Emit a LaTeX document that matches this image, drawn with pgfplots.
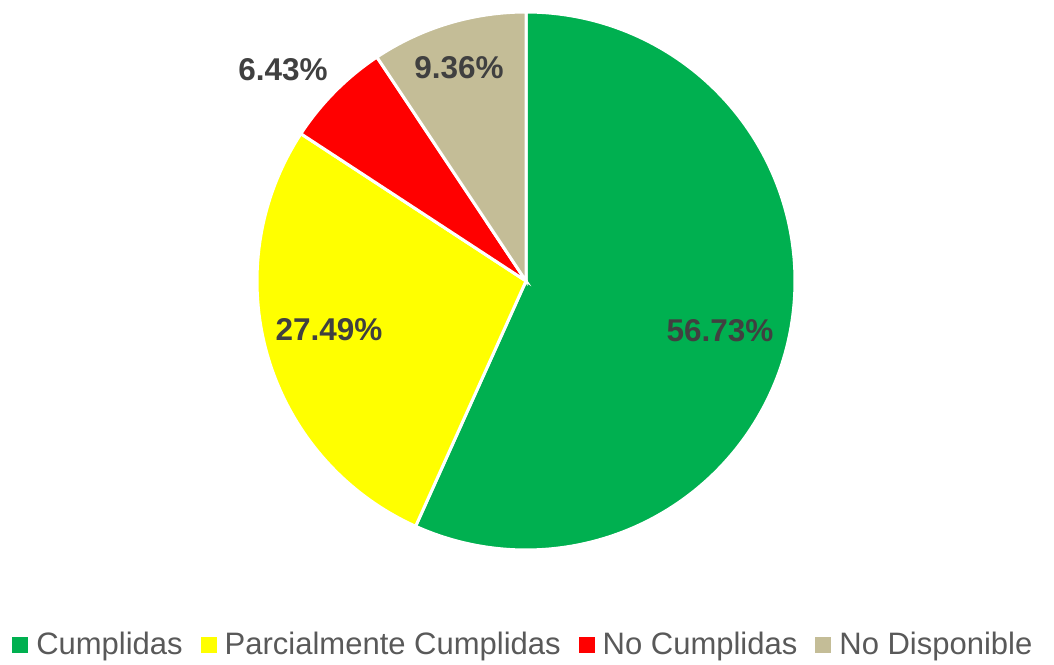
\documentclass[border=0pt]{standalone}
\usepackage{fontspec}
\setmainfont{Liberation Sans}
\usepackage{pgfplots}
\pgfplotsset{compat=1.18}
\definecolor{cGreen}{HTML}{00B050}
\definecolor{cYellow}{HTML}{FFFF00}
\definecolor{cRed}{HTML}{FF0000}
\definecolor{cTan}{HTML}{C4BD97}
\definecolor{cLabel}{HTML}{404040}
\definecolor{cLegend}{HTML}{595959}
\begin{document}
\begin{tikzpicture}
\useasboundingbox (0,0) rectangle (527pt,332pt);
% shares (percent)
\pgfmathsetmacro{\vA}{56.73}
\pgfmathsetmacro{\vB}{27.49}
\pgfmathsetmacro{\vC}{6.43}
\pgfmathsetmacro{\vD}{9.36}
\pgfmathsetmacro{\aA}{90}
\pgfmathsetmacro{\aB}{\aA-3.6*\vA}
\pgfmathsetmacro{\aC}{\aB-3.6*\vB}
\pgfmathsetmacro{\aD}{\aC-3.6*\vC}
\pgfmathsetmacro{\aE}{\aD-3.6*\vD}
\begin{axis}[
  at={(263pt,191.5pt)}, anchor=origin,
  x=134.5pt, y=134.5pt,
  xmin=-1.05, xmax=1.05, ymin=-1.05, ymax=1.05,
  hide axis, clip=false,
  legend columns=4,
  legend cell align=left,
  legend image code/.code={\path[#1, draw=none] (0pt,-4pt) rectangle (8pt,4pt);},
  legend style={at={(0.4935,-0.1444)}, anchor=center, draw=none, fill=none,
    inner sep=0pt, outer sep=0pt,
    font=\fontsize{15.5}{18}\selectfont, text=cLegend,
    nodes={inner sep=0pt},
    /tikz/every odd column/.append style={column sep=4pt},
    /tikz/every even column/.append style={column sep=9pt}},
]
\addplot[fill=cGreen, draw=white, line width=1.5pt, domain=\aB:\aA, samples=150, forget plot]
  ({cos(x)},{sin(x)}) -- (axis cs:0,0) -- cycle;
\addplot[fill=cYellow, draw=white, line width=1.5pt, domain=\aC:\aB, samples=80, forget plot]
  ({cos(x)},{sin(x)}) -- (axis cs:0,0) -- cycle;
\addplot[fill=cRed, draw=white, line width=1.5pt, domain=\aD:\aC, samples=30, forget plot]
  ({cos(x)},{sin(x)}) -- (axis cs:0,0) -- cycle;
\addplot[fill=cTan, draw=white, line width=1.5pt, domain=\aE:\aD, samples=30, forget plot]
  ({cos(x)},{sin(x)}) -- (axis cs:0,0) -- cycle;
\addlegendimage{fill=cGreen}
\addlegendentry{Cumplidas}
\addlegendimage{fill=cYellow}
\addlegendentry{Parcialmente Cumplidas}
\addlegendimage{fill=cRed}
\addlegendentry{No Cumplidas}
\addlegendimage{fill=cTan}
\addlegendentry{No Disponible}
\begin{scope}[every node/.style={font=\bfseries\fontsize{15.75}{18}\selectfont, text=cLabel, inner sep=0pt}]
\node at (axis cs:0.721,-0.186) {56.73\%};
\node at (axis cs:-0.732,-0.180) {27.49\%};
\node at (axis cs:-0.903,0.784) {6.43\%};
\node at (axis cs:-0.249,0.792) {9.36\%};
\end{scope}
\end{axis}
\end{tikzpicture}
\end{document}
